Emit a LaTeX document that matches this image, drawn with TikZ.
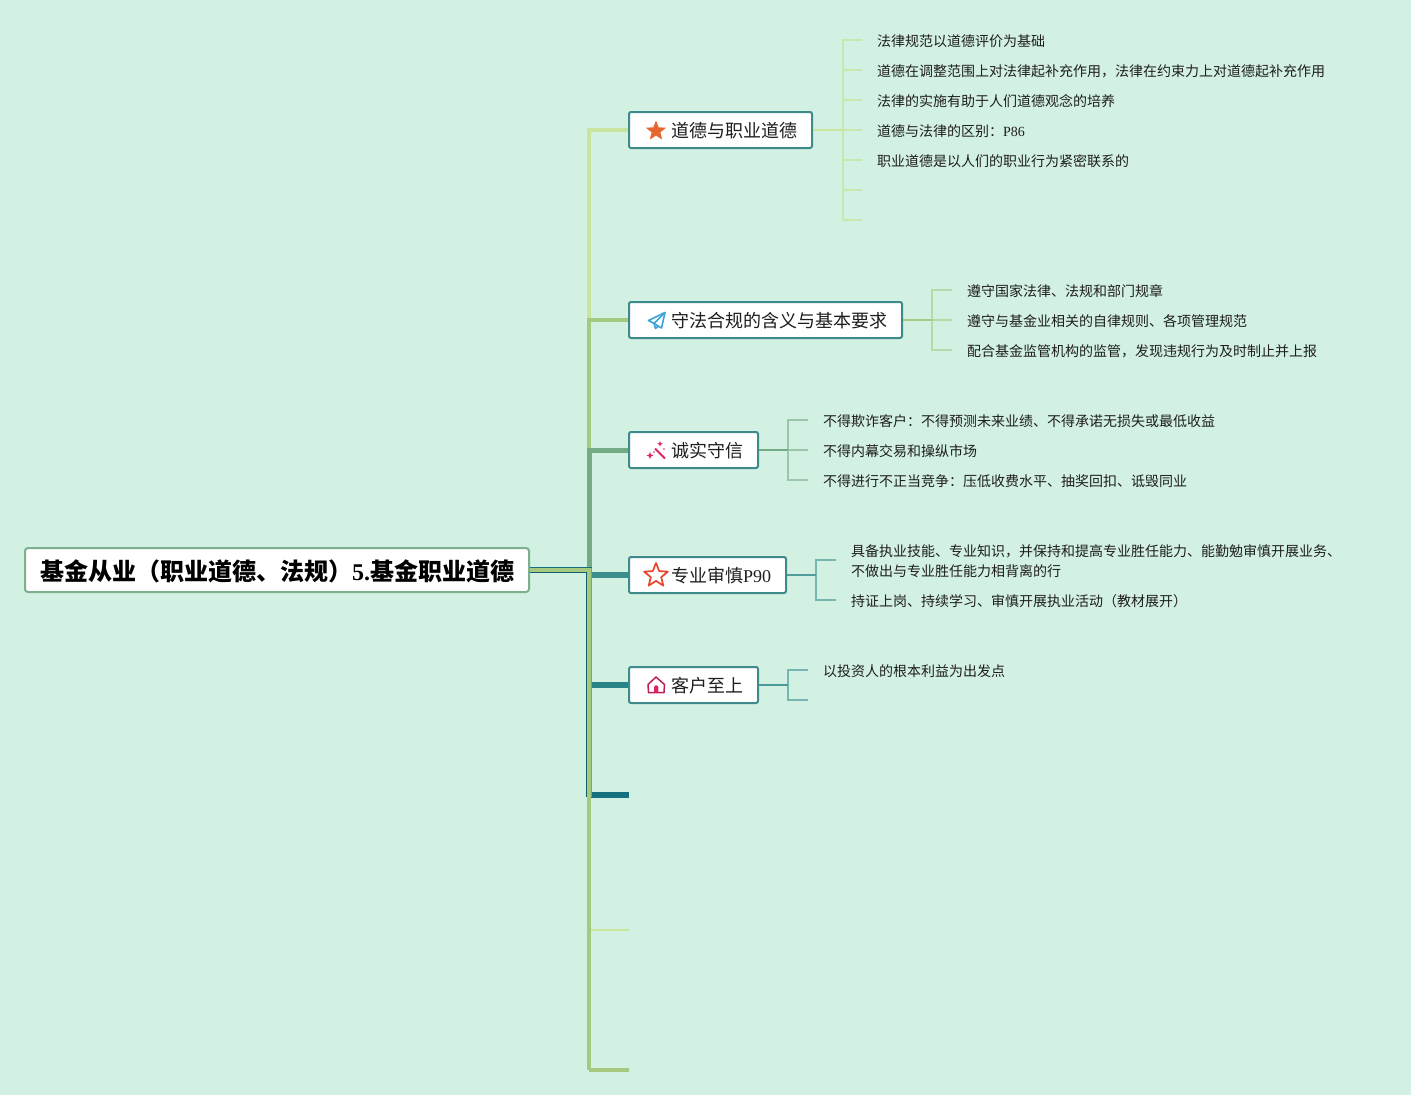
\documentclass[tikz,border=0pt]{standalone}
\usepackage{fontspec}
\setmainfont{Liberation Serif}
\newfontfamily\cjk{Noto Sans CJK SC}
\usetikzlibrary{shapes.geometric}
\definecolor{bgc}{HTML}{D3F1E2}
\definecolor{cA}{HTML}{C8E5A0}
\definecolor{cB}{HTML}{A5C97F}
\definecolor{cC}{HTML}{74AB85}
\definecolor{cD}{HTML}{3B8E8E}
\definecolor{cE}{HTML}{2A8389}
\definecolor{cF}{HTML}{17707F}
\definecolor{edgeTeal}{HTML}{3F8B8C}
\definecolor{rootEdge}{HTML}{7DB08C}
\definecolor{inkc}{HTML}{1E1E1E}
\definecolor{pinkc}{HTML}{E0245E}
\definecolor{starOrange}{HTML}{E5662F}
\definecolor{planeBlue}{HTML}{3AA3D9}
\definecolor{starRed}{HTML}{E8452F}
\tikzset{
  x=1pt,y=-1pt,
  topic/.style={draw=edgeTeal,line width=2pt,rounded corners=2pt,fill=white,minimum height=36pt,inner sep=0pt,anchor=north west},
  topiclabel/.style={anchor=west,inner sep=0pt,text=inkc,font=\fontsize{18}{20}\selectfont\cjk},
  rootbox/.style={draw=rootEdge,line width=2pt,rounded corners=3pt,fill=white,minimum height=44pt,minimum width=504pt,inner sep=0pt,anchor=north west},
  rootlabelstyle/.style={anchor=west,inner sep=0pt,text=black,font=\fontsize{24}{28}\selectfont\cjk\bfseries},
  detail/.style={anchor=west,inner sep=0pt,text=inkc,font=\fontsize{14}{20}\selectfont\cjk,align=left},
  spine/.style={line width=4.5pt},
  leaf/.style={line width=1.8pt},
  iconstar/.style={star,star points=5,star point ratio=2.3,inner sep=0pt},
}
\begin{document}
\begin{tikzpicture}
\useasboundingbox[fill=bgc] (0,0) rectangle (1411,1095);

% boxes
\node[rootbox] (root) at (24,547) {};
\node[rootlabelstyle] (rootlabel) at (40,571.5) {基金从业（职业道德、法规）{\rmfamily\bfseries 5.}基金职业道德};
\node[topic,minimum width=183pt] (t1) at (628,111) {};
\node[topic,minimum width=273pt] (t2) at (628,301) {};
\node[topic,minimum width=129pt] (t3) at (628,431) {};
\node[topic,minimum width=157pt] (t4) at (628,556) {};
\node[topic,minimum width=129pt] (t5) at (628,666) {};
\node[topiclabel] (l1) at (671,131) {道德与职业道德};
\node[topiclabel] (l2) at (671,321) {守法合规的含义与基本要求};
\node[topiclabel] (l3) at (671,451) {诚实守信};
\node[topiclabel] (l4) at (671,576) {专业审慎{\rmfamily P90}};
\node[topiclabel] (l5) at (671,686) {客户至上};

% spine coordinates
\coordinate (s1) at (589,130);
\coordinate (s2) at (589,320);
\coordinate (s3) at (589,450);
\coordinate (s4) at (592,575);
\coordinate (s5) at (592,685);
\coordinate (s6) at (589,795);
\coordinate (s7) at (591,930);
\coordinate (s8) at (589,1070);
\coordinate (e6) at (629,795);
\coordinate (e7) at (629,930);
\coordinate (e8) at (629,1070);

% spine
\draw[cA,spine] (t1.west) -- (s1) -- (s2);
\draw[cB,spine] (s8) -- (s6);
\draw[cB,spine] (e8) -- (s8);
\draw[cB,spine] (t2.west) -- (s2) -- (s3);
\draw[cC,line width=5pt] (t3.west) -- (s3) -- (589,568);
\draw[cD,line width=5.5pt] (t4.west) -- (s4);
\draw[cE,line width=5.5pt] (t5.west) -- (s5);
\draw[cF,line width=6pt] (e6) -- (591,795);
\draw[cA,line width=2pt] (e7) -- (s7);
% root connector
\fill[cB] (530,568) -- (591,568) -- (591,797) -- (587,797) -- (587,572) -- (530,572) -- cycle;
\draw[cD!75!bgc,line width=0.8pt] (591.4,568) -- (591.4,797);
\draw[cF,line width=1pt] (root.east |- 0,567.5) -- (591.5,567.5);
\draw[cF!85!black,line width=1pt] (root.east |- 0,572) -- (586.5,572) -- (586.5,797);

% level 2 brackets
\draw[cA!80!bgc,leaf] (862,40) -- (843,40) -- (843,220) -- (862,220);
\foreach \yy in {70,100,130,160,190} \draw[cA!80!bgc,leaf] (843,\yy) -- (862,\yy);
\draw[cA,leaf] (t1.east) -- (843,130);
\draw[cB!60!bgc,leaf] (952,290) -- (932,290) -- (932,350) -- (952,350);
\draw[cB!60!bgc,leaf] (932,320) -- (952,320);
\draw[cB,leaf] (t2.east) -- (932,320);
\draw[cC!60!bgc,leaf] (808,420) -- (788,420) -- (788,480) -- (808,480);
\draw[cC!60!bgc,leaf] (788,450) -- (808,450);
\draw[cC,leaf] (t3.east) -- (788,450);
\draw[cD!60!bgc,leaf] (836,560) -- (816,560) -- (816,600) -- (836,600);
\draw[cD!85!bgc,leaf] (t4.east) -- (816,575);
\draw[cE!55!bgc,leaf] (808,670) -- (788,670) -- (788,700) -- (808,700);
\draw[cE!80!bgc,leaf] (t5.east) -- (788,685);

% details
\node[detail] (d11) at (877,41.5) {法律规范以道德评价为基础};
\node[detail] (d12) at (877,71.5) {道德在调整范围上对法律起补充作用，法律在约束力上对道德起补充作用};
\node[detail] (d13) at (877,101.5) {法律的实施有助于人们道德观念的培养};
\node[detail] (d14) at (877,131.5) {道德与法律的区别：{\rmfamily P86}};
\node[detail] (d15) at (877,161.5) {职业道德是以人们的职业行为紧密联系的};
\node[detail] (d21) at (967,291.5) {遵守国家法律、法规和部门规章};
\node[detail] (d22) at (967,321.5) {遵守与基金业相关的自律规则、各项管理规范};
\node[detail] (d23) at (967,351.5) {配合基金监管机构的监管，发现违规行为及时制止并上报};
\node[detail] (d31) at (823,421.5) {不得欺诈客户：不得预测未来业绩、不得承诺无损失或最低收益};
\node[detail] (d32) at (823,451.5) {不得内幕交易和操纵市场};
\node[detail] (d33) at (823,481.5) {不得进行不正当竞争：压低收费水平、抽奖回扣、诋毁同业};
\node[detail] (d41) at (851,561.5) {具备执业技能、专业知识，并保持和提高专业胜任能力、能勤勉审慎开展业务、\\不做出与专业胜任能力相背离的行};
\node[detail] (d42) at (851,601.5) {持证上岗、持续学习、审慎开展执业活动（教材展开）};
\node[detail] (d51) at (823,671.5) {以投资人的根本利益为出发点};

% icons
\node[iconstar,fill=starOrange,minimum size=21pt] (i1) at (656,131) {};
\draw[line width=1.6pt,draw=planeBlue,line join=round] (665,312.5) -- (648.5,320.5) -- (654,323.5) -- (661.5,328) -- cycle;
\draw[line width=1.6pt,draw=planeBlue,line join=round] (665,312.5) -- (654,323.5) -- (655.5,328.5) -- (658.5,326);
\draw[pinkc,line width=2pt] (655,448.5) -- (665,458.5);
\fill[pinkc] (650,452) -- (651,454.5) -- (653.5,455.5) -- (651,456.5) -- (650,459) -- (649,456.5) -- (646.5,455.5) -- (649,454.5) -- cycle;
\fill[pinkc] (660,441) -- (660.8,443) -- (662.8,443.8) -- (660.8,444.6) -- (660,446.6) -- (659.2,444.6) -- (657.2,443.8) -- (659.2,443) -- cycle;
\fill[pinkc] (664,449) circle (0.9pt);
\fill[pinkc] (654,452) circle (0.9pt);
\node[iconstar,draw=starRed,line width=1.7pt,line join=round,fill=white,minimum size=25pt] (i4) at (656,575.5) {};
\draw[pinkc!85!black,line width=1.5pt,line join=round] (648,684.5) -- (656,677) -- (664.5,684.5) -- (664,692.5) -- (648.5,692.5) -- cycle;
\fill[pinkc] (654,692.5) -- (654,687.5) arc (180:0:2.2pt) -- (658.4,692.5) -- cycle;
\end{tikzpicture}
\end{document}
